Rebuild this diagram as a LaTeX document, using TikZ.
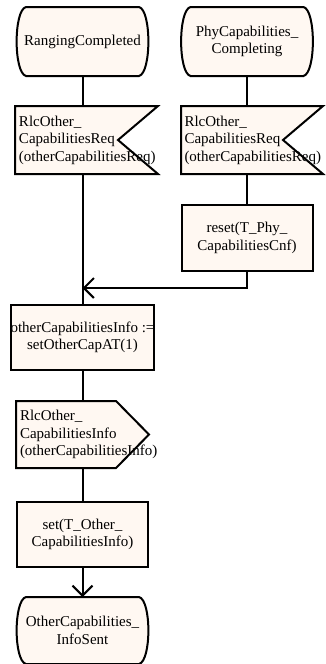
\documentclass[tikz,border=0pt]{standalone}
\usepackage{fontspec}
\setmainfont{Liberation Serif}
\usetikzlibrary{arrows.meta,backgrounds}
\definecolor{sdlfill}{RGB}{255,248,242}

\begin{document}
\begin{tikzpicture}[x=1pt, y=-1pt, line width=2pt, every node/.style={font=\fontsize{15}{17.5}\selectfont, inner sep=0pt}, >={Straight Barb[length=10pt,width=20pt]},
	statebox/.style={minimum width=131pt, minimum height=67pt, align=center},
	taskbox/.style={draw, fill=sdlfill, line width=2pt, minimum width=131pt, minimum height=65pt, align=center},
	sigbox/.style={minimum height=66pt, align=left},
	sdlshape/.style={draw, fill=sdlfill, line width=2pt, line join=miter}]
	\useasboundingbox (0,0) rectangle (326,664);
	\node[statebox] (ranging) at (82.5,41.5) {RangingCompleted};
	\node[statebox] (phycomp) at (247,41.5) {PhyCapabilities\_\\Completing};
	\node[sigbox, minimum width=141pt, text width=135pt] (reqA) at (86.5,140) {RlcOther\_\\CapabilitiesReq\\(otherCapabilitiesReq)};
	\node[sigbox, minimum width=140pt, text width=135pt] (reqB) at (252,140) {RlcOther\_\\CapabilitiesReq\\(otherCapabilitiesReq)};
	\node[taskbox, minimum height=66pt] (resetT) at (247,238) {reset(T\_Phy\_\\CapabilitiesCnf)};
	\node[taskbox] (infoAssign) at (82.5,337.5) {otherCapabilitiesInfo :=\\setOtherCapAT(1)};
	\node[sigbox, minimum width=131pt, minimum height=65pt, text width=125pt] (infoOut) at (82.5,434.5) {RlcOther\_\\CapabilitiesInfo\\(otherCapabilitiesInfo)};
	\node[taskbox] (setT) at (82.5,534.5) {set(T\_Other\_\\CapabilitiesInfo)};
	\node[statebox, minimum height=65pt] (infoSent) at (82.5,630.5) {OtherCapabilities\_\\InfoSent};
	\coordinate (merge) at (82.5,288);
	\begin{scope}[on background layer]
		\foreach \n in {ranging,phycomp,infoSent}
			\draw[sdlshape] ([xshift=10pt]\n.north west) -- ([xshift=-10pt]\n.north east)
				.. controls ([xshift=2.5pt,yshift=-3pt]\n.north east) and ([xshift=2.5pt,yshift=3pt]\n.south east) .. ([xshift=-10pt]\n.south east)
				-- ([xshift=10pt]\n.south west)
				.. controls ([xshift=-2.5pt,yshift=3pt]\n.south west) and ([xshift=-2.5pt,yshift=-3pt]\n.north west) .. cycle;
		\foreach \n in {reqA,reqB}
			\draw[sdlshape] (\n.north west) -- (\n.north east) -- ([xshift=-40pt]\n.east) -- (\n.south east) -- (\n.south west) -- cycle;
		\draw[sdlshape] (infoOut.north west) -- ([xshift=-33pt]infoOut.north east) -- (infoOut.east) -- ([xshift=-33pt]infoOut.south east) -- (infoOut.south west) -- cycle;
	\end{scope}
	\draw (ranging.south) -- (ranging.south |- reqA.north);
	\draw (ranging.south |- reqA.south) -- (infoAssign.north);
	\draw (phycomp.south) -- (phycomp.south |- reqB.north);
	\draw (phycomp.south |- reqB.south) -- (resetT.north);
	\draw[->] (resetT.south) |- (merge);
	\draw (infoAssign.south) -- (infoAssign.south |- infoOut.north);
	\draw (infoAssign.south |- infoOut.south) -- (setT.north);
	\draw[->] (setT.south) -- (infoSent.north);
\end{tikzpicture}
\end{document}
